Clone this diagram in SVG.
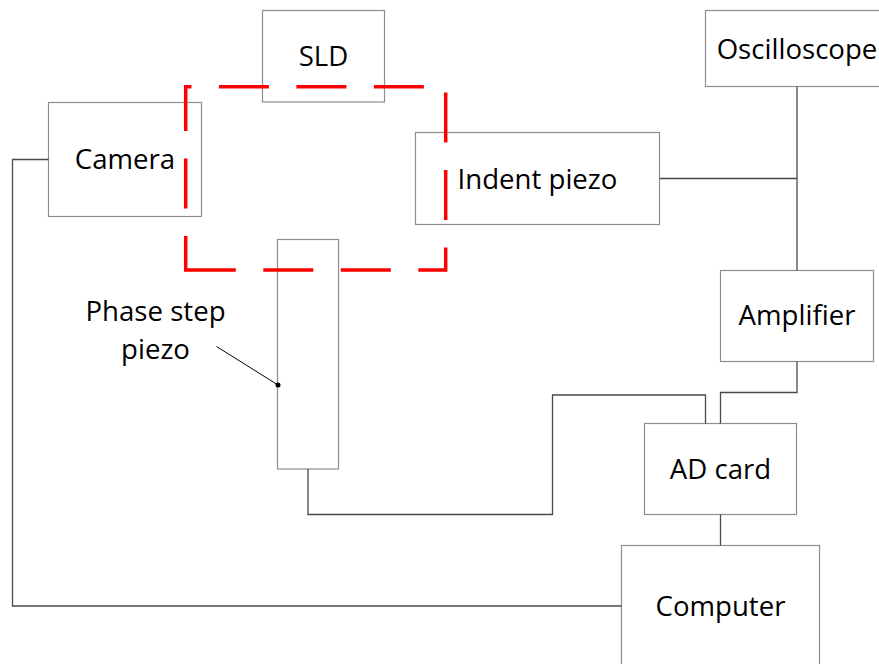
<svg xmlns="http://www.w3.org/2000/svg" width="879" height="664" viewBox="0 0 879 664">
  <style>
    .box { fill: #ffffff; stroke: #8e8e8e; stroke-width: 1.2; }
    .label { font-family: "Open Sans", "Liberation Sans", sans-serif; font-size: 27.6px; fill: #000000; text-anchor: middle; }
    .wire { fill: none; stroke: #4a4a4a; stroke-width: 1.3; }
    .beam { fill: none; stroke: #ff0000; stroke-width: 3.5; stroke-linecap: butt; stroke-linejoin: miter;
            stroke-dasharray: 84.1 27.5 50 27.5 50 27.5 50 27.5 50 27.5 50 27.5 50 27.5 50 27.5 50 27.5 50 27.5 50 27.5; }
  </style>

  <g id="sld">
    <rect class="box" x="262.5" y="10.5" width="122" height="91.5"/>
    <text class="label" x="323.5" y="65.5">SLD</text>
  </g>

  <g id="camera">
    <rect class="box" x="48.5" y="102.5" width="153" height="114"/>
    <text class="label" x="125" y="169">Camera</text>
  </g>

  <g id="indent-piezo">
    <rect class="box" x="415.5" y="132.5" width="244" height="92"/>
    <text class="label" x="537.5" y="188.5">Indent piezo</text>
  </g>

  <g id="oscilloscope">
    <rect class="box" x="705.5" y="10.5" width="185" height="76"/>
    <text class="label" x="797" y="58.5">Oscilloscope</text>
  </g>

  <g id="amplifier">
    <rect class="box" x="720.5" y="270.5" width="153" height="91"/>
    <text class="label" x="797" y="325">Amplifier</text>
  </g>

  <g id="ad-card">
    <rect class="box" x="644.5" y="423.5" width="152" height="91"/>
    <text class="label" x="720.5" y="478.5">AD card</text>
  </g>

  <g id="computer">
    <rect class="box" x="621.5" y="545.5" width="198" height="150"/>
    <text class="label" x="720.5" y="616">Computer</text>
  </g>

  <g id="phase-step-piezo">
    <rect class="box" x="277.5" y="239.5" width="61" height="229.5"/>
    <text class="label" x="155.5" y="320.5">Phase step</text>
    <text class="label" x="155.5" y="359">piezo</text>
  </g>

  <!-- wiring between instruments -->
  <g id="connectors">
    <polyline class="wire" points="48.5,159.5 12.5,159.5 12.5,606 621.5,606"/>
    <polyline class="wire" points="659.5,178.5 797,178.5"/>
    <polyline class="wire" points="797,86.5 797,270.5"/>
    <polyline class="wire" points="797,361.5 797,392.5 720.5,392.5 720.5,423.5"/>
    <polyline class="wire" points="308,469 308,514.5 552.5,514.5 552.5,395 705.5,395 705.5,423.5"/>
    <polyline class="wire" points="720.5,514.5 720.5,545.5"/>
    <!-- leader for the phase step piezo label -->
    <line x1="216.5" y1="346.5" x2="278" y2="385" stroke="#000" stroke-width="1"/>
    <circle cx="278" cy="385" r="2.5" fill="#000"/>
  </g>

  <!-- optical path loop -->
  <g id="beam-path">
    <path class="beam" d="M235.8,270 H185.7 V86.7 H445.7 V270 H235.8"/>
  </g>
</svg>
